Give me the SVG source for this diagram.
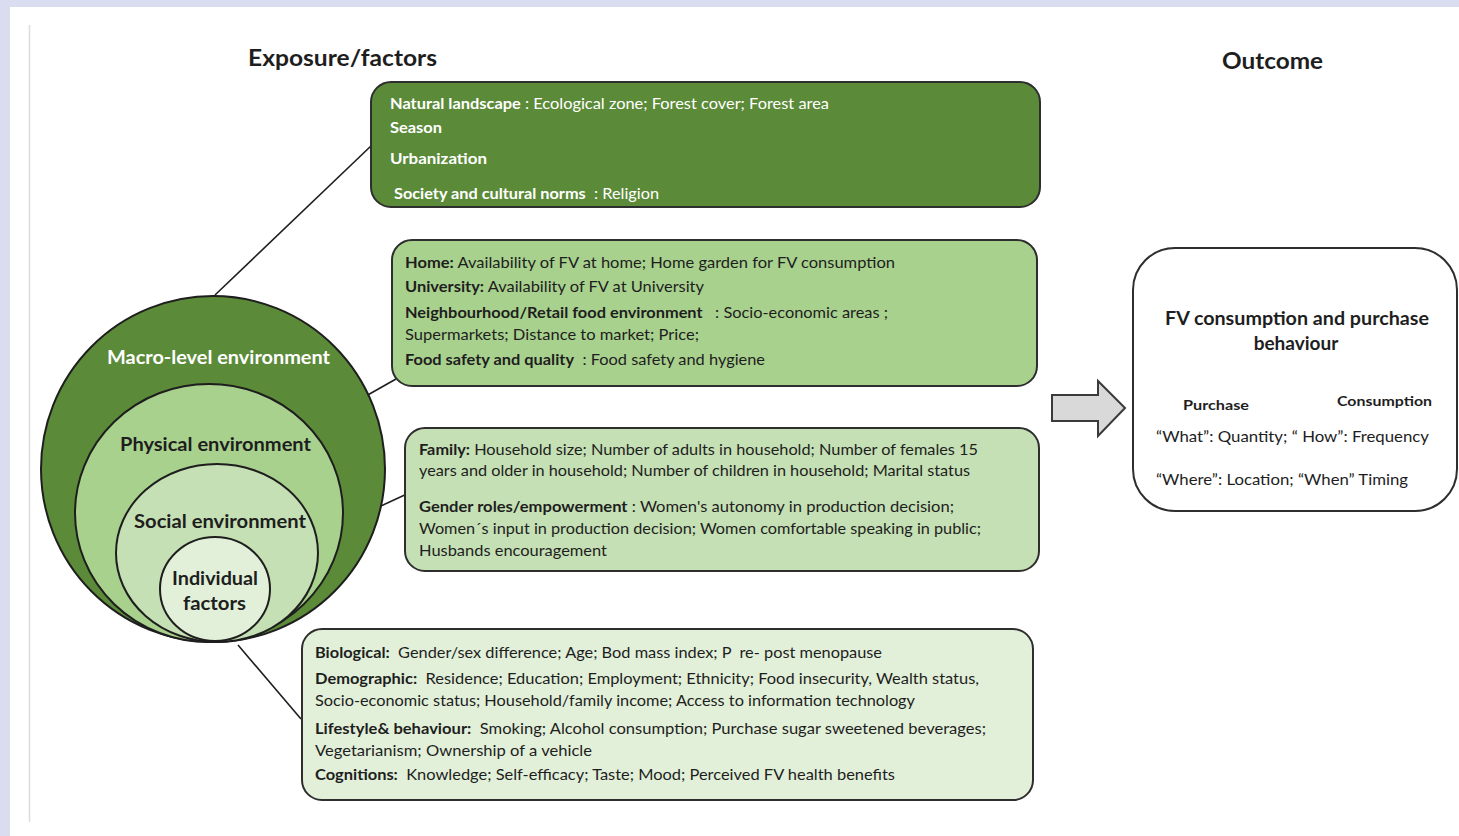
<svg xmlns="http://www.w3.org/2000/svg" width="1459" height="836" viewBox="0 0 1459 836">
<style>
text{font-family:Lato,"Open Sans","Liberation Sans",sans-serif;white-space:pre;}
.t{font-size:15px;fill:#1e1e1e;}
.w{font-size:15px;fill:#ffffff;}
.b{font-weight:bold;}
.h{font-size:22px;font-weight:bold;fill:#1e1e1e;}
.box{stroke:#2e2e2e;stroke-width:2;}
.circ{stroke:#1e1e1e;stroke-width:2;}
.con{stroke:#1e1e1e;stroke-width:1.6;fill:none;}
.cl{font-size:18px;font-weight:bold;}
</style>
<rect x="0" y="0" width="1459" height="836" fill="#d9ddef"/>
<rect x="10" y="7" width="1449" height="829" fill="#ffffff"/>
<line x1="29.5" y1="25" x2="29.5" y2="822" stroke="#dcdcdc" stroke-width="1.5"/>

<text class="h" x="248" y="66" textLength="189" lengthAdjust="spacingAndGlyphs">Exposure/factors</text>
<text class="h" x="1222" y="69" textLength="101" lengthAdjust="spacingAndGlyphs">Outcome</text>

<g id="connectors">
<line class="con" x1="215" y1="295" x2="372" y2="145"/>
<line class="con" x1="313" y1="426" x2="396" y2="379"/>
<line class="con" x1="316" y1="536" x2="409" y2="493"/>
<line class="con" x1="238" y1="645" x2="301" y2="719"/>
<path id="arrow" d="M1052,395 L1098,395 L1098,381 L1125,408 L1098,436 L1098,421 L1052,421 Z" fill="#d9d9d9" stroke="#3a3a3a" stroke-width="2"/>
</g>

<g id="circles">
<g id="macro">
<ellipse class="circ" cx="213" cy="469" rx="172" ry="173" fill="#5b8a38"/>
<text class="cl" x="107" y="364" fill="#ffffff" textLength="223" lengthAdjust="spacingAndGlyphs">Macro-level environment</text>
</g>
<g id="physical">
<ellipse class="circ" cx="209" cy="513" rx="134" ry="129" fill="#a9d18e"/>
<text class="cl" x="120" y="451" fill="#1e1e1e" textLength="191" lengthAdjust="spacingAndGlyphs">Physical environment</text>
</g>
<g id="social">
<ellipse class="circ" cx="217" cy="553" rx="101" ry="89" fill="#c5e0b4"/>
<text class="cl" x="134" y="528" fill="#1e1e1e" textLength="172" lengthAdjust="spacingAndGlyphs">Social environment</text>
</g>
<g id="individual">
<ellipse class="circ" cx="215" cy="589" rx="55" ry="52" fill="#e2f0d9"/>
<text class="cl" x="172" y="585" fill="#1e1e1e" textLength="86" lengthAdjust="spacingAndGlyphs">Individual</text>
<text class="cl" x="183" y="610" fill="#1e1e1e" textLength="63" lengthAdjust="spacingAndGlyphs">factors</text>
</g>
</g>

<g id="box-macro">
<rect class="box" x="371" y="82" width="669" height="125" rx="20" fill="#5b8a38"/>
<text class="w" x="390" y="109" textLength="439" lengthAdjust="spacingAndGlyphs"><tspan class="b">Natural landscape</tspan> : Ecological zone; Forest cover; Forest area</text>
<text class="w b" x="390" y="133" textLength="52" lengthAdjust="spacingAndGlyphs">Season</text>
<text class="w b" x="390" y="164" textLength="97" lengthAdjust="spacingAndGlyphs">Urbanization</text>
<text class="w" x="394" y="199" textLength="265" lengthAdjust="spacingAndGlyphs"><tspan class="b">Society and cultural norms</tspan>  : Religion</text>
</g>

<g id="box-physical">
<rect class="box" x="392" y="240" width="645" height="146" rx="20" fill="#a9d18e"/>
<text class="t" x="405" y="268" textLength="490" lengthAdjust="spacingAndGlyphs"><tspan class="b">Home:</tspan> Availability of FV at home; Home garden for FV consumption</text>
<text class="t" x="405" y="292" textLength="299" lengthAdjust="spacingAndGlyphs"><tspan class="b">University:</tspan> Availability of FV at University</text>
<text class="t" x="405" y="318" textLength="483" lengthAdjust="spacingAndGlyphs"><tspan class="b">Neighbourhood/Retail food environment</tspan>   : Socio-economic areas ;</text>
<text class="t" x="405" y="340" textLength="294" lengthAdjust="spacingAndGlyphs">Supermarkets; Distance to market; Price;</text>
<text class="t" x="405" y="365" textLength="360" lengthAdjust="spacingAndGlyphs"><tspan class="b">Food safety and quality</tspan>  : Food safety and hygiene</text>
</g>

<g id="box-social">
<rect class="box" x="405" y="428" width="634" height="143" rx="20" fill="#c5e0b4"/>
<text class="t" x="419" y="455" textLength="559" lengthAdjust="spacingAndGlyphs"><tspan class="b">Family:</tspan> Household size; Number of adults in household; Number of females 15</text>
<text class="t" x="419" y="476" textLength="551" lengthAdjust="spacingAndGlyphs">years and older in household; Number of children in household; Marital status</text>
<text class="t" x="419" y="512" textLength="535" lengthAdjust="spacingAndGlyphs"><tspan class="b">Gender roles/empowerment</tspan> : Women's autonomy in production decision;</text>
<text class="t" x="419" y="534" textLength="562" lengthAdjust="spacingAndGlyphs">Women´s input in production decision; Women comfortable speaking in public;</text>
<text class="t" x="419" y="556" textLength="188" lengthAdjust="spacingAndGlyphs">Husbands encouragement</text>
</g>

<g id="box-individual">
<rect class="box" x="302" y="629" width="731" height="171" rx="20" fill="#e2f0d9"/>
<text class="t" x="315" y="658" textLength="567" lengthAdjust="spacingAndGlyphs"><tspan class="b">Biological:</tspan>  Gender/sex difference; Age; Bod mass index; P  re- post menopause</text>
<text class="t" x="315" y="684" textLength="664" lengthAdjust="spacingAndGlyphs"><tspan class="b">Demographic:</tspan>  Residence; Education; Employment; Ethnicity; Food insecurity, Wealth status,</text>
<text class="t" x="315" y="706" textLength="600" lengthAdjust="spacingAndGlyphs">Socio-economic status; Household/family income; Access to information technology</text>
<text class="t" x="315" y="734" textLength="671" lengthAdjust="spacingAndGlyphs"><tspan class="b">Lifestyle&amp; behaviour:</tspan>  Smoking; Alcohol consumption; Purchase sugar sweetened beverages;</text>
<text class="t" x="315" y="756" textLength="277" lengthAdjust="spacingAndGlyphs">Vegetarianism; Ownership of a vehicle</text>
<text class="t" x="315" y="780" textLength="580" lengthAdjust="spacingAndGlyphs"><tspan class="b">Cognitions:</tspan>  Knowledge; Self-efficacy; Taste; Mood; Perceived FV health benefits</text>
</g>

<g id="outcome">
<rect class="box" x="1133" y="248" width="324" height="263" rx="42" fill="#ffffff"/>
<text x="1165" y="325" font-size="19" font-weight="bold" fill="#1e1e1e" textLength="264" lengthAdjust="spacingAndGlyphs">FV consumption and purchase</text>
<text x="1296" y="350" font-size="19" font-weight="bold" fill="#1e1e1e" text-anchor="middle">behaviour</text>
<text x="1183" y="410" font-size="14" font-weight="bold" fill="#1e1e1e" textLength="66" lengthAdjust="spacingAndGlyphs">Purchase</text>
<text x="1337" y="406" font-size="14" font-weight="bold" fill="#1e1e1e" textLength="95" lengthAdjust="spacingAndGlyphs">Consumption</text>
<text class="t" x="1156" y="442" textLength="273" lengthAdjust="spacingAndGlyphs">“What”: Quantity; “ How”: Frequency</text>
<text class="t" x="1156" y="485" textLength="252" lengthAdjust="spacingAndGlyphs">“Where”: Location; “When” Timing</text>
</g>
</svg>
